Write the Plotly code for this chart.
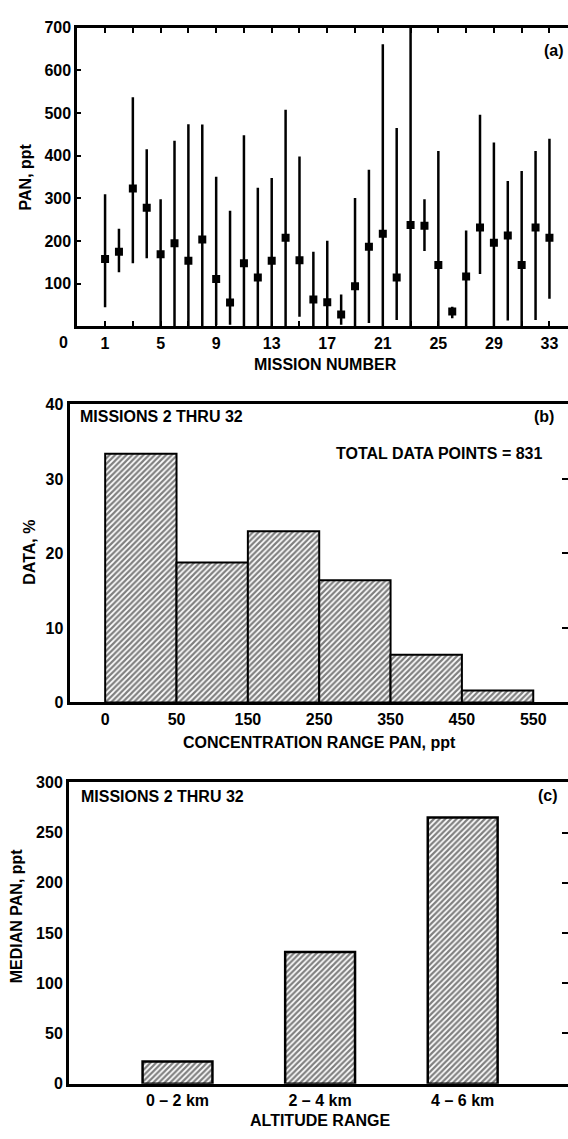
import plotly.graph_objects as go

# (a) PAN per mission: median with range
missions = list(range(1, 34))
pan_mid = [158, 175, 323, 278, 169, 195, 154, 204, 111, 56, 148, 115, 154, 208, 155, 63, 57,
           28, 94, 187, 217, 115, 238, 236, 144, 35, 117, 232, 196, 213, 144, 232, 208]
pan_high = [310, 229, 537, 415, 298, 435, 474, 473, 351, 271, 448, 325, 348, 508, 398, 175, 201,
            75, 301, 367, 661, 465, 720, 298, 411, 46, 225, 496, 431, 341, 364, 411, 440]
pan_low = [45, 127, 148, 160, 0, 0, 0, 0, 3, 4, 0, 0, 0, 0, 23, 0, 0,
           4, 0, 8, 0, 15, 0, 177, 0, 19, 0, 123, 0, 14, 0, 15, 65]
mission_ticks = list(range(1, 34, 2))
mission_labels = [str(m) if (m - 1) % 4 == 0 else "" for m in mission_ticks]

# (b) histogram of concentration ranges
conc_edges = ["0", "50", "150", "250", "350", "450", "550"]
conc_pct = [33.4, 18.8, 23.0, 16.4, 6.4, 1.6]

# (c) median PAN by altitude
alt_ranges = ["0 \u2013 2 km", "2 \u2013 4 km", "4 \u2013 6 km"]
alt_median = [22, 131, 265]

BLACK = "#000000"
FONT = dict(family="Liberation Sans, Arial, sans-serif", size=16, color=BLACK, weight="bold")
H, W = 1139, 568


def py(px):
    return 1 - px / H


def pxx(px):
    return px / W


hatch = dict(shape="/", fgcolor=BLACK, bgcolor="white", size=4, solidity=0.55)

fig = go.Figure()

fig.add_trace(go.Scatter(
    x=missions, y=pan_mid, mode="markers", xaxis="x", yaxis="y",
    marker=dict(symbol="square", size=8, color=BLACK),
    error_y=dict(type="data", symmetric=False,
                 array=[h - m for h, m in zip(pan_high, pan_mid)],
                 arrayminus=[m - l for m, l in zip(pan_mid, pan_low)],
                 width=0, thickness=2.5, color=BLACK),
    showlegend=False,
))

fig.add_trace(go.Bar(
    x=[i + 0.5 for i in range(len(conc_pct))], y=conc_pct, width=1,
    xaxis="x2", yaxis="y2",
    marker=dict(color="white", pattern=hatch, line=dict(color=BLACK, width=2)),
    showlegend=False,
))

fig.add_trace(go.Bar(
    x=list(range(len(alt_median))), y=alt_median, width=0.49,
    xaxis="x3", yaxis="y3",
    marker=dict(color="white", pattern=hatch, line=dict(color=BLACK, width=2.5)),
    showlegend=False,
))

# invisible traces so the right-hand tick axes are drawn
for ya, xa in (("y4", "x"), ("y5", "x2"), ("y6", "x3")):
    fig.add_trace(go.Scatter(x=[None], y=[None], xaxis=xa, yaxis=ya, showlegend=False))

xcommon = dict(showline=True, linewidth=3, linecolor=BLACK, mirror="ticks", showgrid=False,
               zeroline=False, tickfont=FONT, ticks="", fixedrange=True)
ycommon = dict(showline=True, linewidth=3, linecolor=BLACK, showgrid=False, zeroline=False,
               tickfont=FONT, fixedrange=True)
rcommon = dict(side="right", showline=True, linewidth=1, linecolor="#888888", showgrid=False,
               zeroline=False, showticklabels=False, ticks="inside", ticklen=6, tickwidth=2,
               tickcolor=BLACK)

fig.update_layout(
    width=W, height=H,
    margin=dict(l=0, r=0, t=0, b=0),
    plot_bgcolor="white", paper_bgcolor="white",
    xaxis=dict(xcommon, domain=[pxx(77.3), pxx(567.5)], range=[-1.0, 34.3], anchor="y",
               tickvals=mission_ticks, ticktext=mission_labels,
               ticks="inside", ticklen=5, tickwidth=2, tickcolor=BLACK),
    yaxis=dict(ycommon, domain=[py(323.3), py(20)], range=[0, 700], anchor="x",
               tickvals=[100, 200, 300, 400, 500, 600, 700],
               ticks="inside", ticklen=4, tickwidth=2, tickcolor=BLACK),
    yaxis4=dict(rcommon, overlaying="y", anchor="x", range=[0, 700], ticks=""),
    xaxis2=dict(xcommon, domain=[pxx(69.5), pxx(567.5)], range=[-0.5, 6.48], anchor="y2",
                tickvals=list(range(len(conc_edges))), ticktext=conc_edges),
    yaxis2=dict(ycommon, domain=[py(705), py(402.5)], range=[0, 40], anchor="x2",
                tickvals=[0, 10, 20, 30, 40]),
    yaxis5=dict(rcommon, overlaying="y2", anchor="x2", range=[0, 40], tickvals=[10, 20, 30]),
    xaxis3=dict(xcommon, domain=[pxx(69), pxx(567.5)], range=[-0.761, 2.735], anchor="y3",
                tickvals=list(range(len(alt_ranges))), ticktext=alt_ranges),
    yaxis3=dict(ycommon, domain=[py(1092), py(786)], range=[0, 300], anchor="x3",
                tickvals=[0, 50, 100, 150, 200, 250, 300]),
    yaxis6=dict(rcommon, overlaying="y3", anchor="x3", range=[0, 300],
                tickvals=[50, 100, 150, 200, 250]),
)

ann = [
    # axis titles
    dict(text="PAN, ppt", x=pxx(25), y=py(172), textangle=-90),
    dict(text="MISSION NUMBER", x=pxx(325), y=py(362)),
    dict(text="DATA, %", x=pxx(30), y=py(553), textangle=-90),
    dict(text="CONCENTRATION RANGE PAN, ppt", x=pxx(319), y=py(746)),
    dict(text="MEDIAN PAN, ppt", x=pxx(16), y=py(922), textangle=-90),
    dict(text="ALTITUDE RANGE", x=pxx(320), y=py(1129)),
    # in-panel labels
    dict(text="0", x=pxx(63), y=py(340)),
    dict(text="(a)", x=pxx(566), y=py(43), xanchor="right"),
    dict(text="MISSIONS 2 THRU 32", x=pxx(78), y=py(415), xanchor="left"),
    dict(text="(b)", x=pxx(556), y=py(415), xanchor="right"),
    dict(text="TOTAL DATA POINTS = 831", x=pxx(545), y=py(452), xanchor="right"),
    dict(text="MISSIONS 2 THRU 32", x=pxx(79), y=py(800), xanchor="left"),
    dict(text="(c)", x=pxx(560), y=py(799), xanchor="right"),
]
for a in ann:
    a.setdefault("xanchor", "center")
    fig.add_annotation(xref="paper", yref="paper", yanchor="middle", showarrow=False,
                       font=FONT, **a)

# drop the default page margin so the figure sits flush in the window
fig.write_html("out.html", config={"displayModeBar": False},
               post_script="document.body.style.margin='0';document.body.style.overflow='hidden';")
